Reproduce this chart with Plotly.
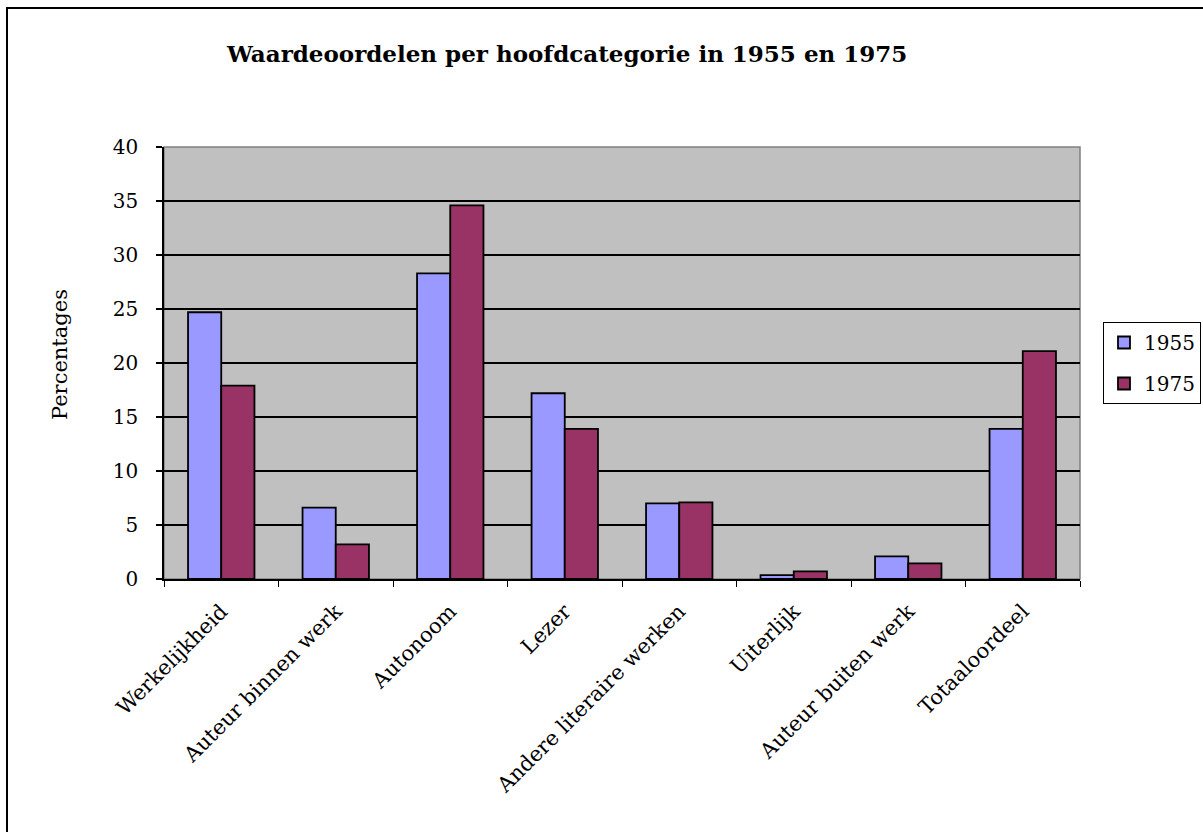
import plotly.graph_objects as go

categories = ["Werkelijkheid", "Auteur binnen werk", "Autonoom", "Lezer",
              "Andere literaire werken", "Uiterlijk", "Auteur buiten werk", "Totaaloordeel"]
values_1955 = [24.7, 6.6, 28.3, 17.2, 7.0, 0.35, 2.1, 13.9]
values_1975 = [17.9, 3.2, 34.6, 13.9, 7.1, 0.7, 1.45, 21.1]
series_names = ["1955", "1975"]
y_ticks = [0, 5, 10, 15, 20, 25, 30, 35, 40]

W, H = 1203, 832
L, R, T, B = 164, 1080, 147, 579  # plot area in pixels
FONT = "DejaVu Serif, Liberation Serif, serif"

def px_x(p):
    return (p - L) / (R - L)

def px_y(p):
    return (B - p) / (B - T)

fig = go.Figure()
fig.add_trace(go.Bar(x=categories, y=values_1955, name=series_names[0],
                     marker=dict(color="#9999FF", line=dict(color="black", width=1.8)),
                     legendgroup="a"))
fig.add_trace(go.Bar(x=categories, y=values_1975, name=series_names[1],
                     marker=dict(color="#993366", line=dict(color="black", width=1.8)),
                     legendgroup="b"))

fig.update_layout(
    width=W, height=H,
    margin=dict(l=L, r=W - R, t=T, b=H - B, autoexpand=False),
    paper_bgcolor="white",
    plot_bgcolor="#C0C0C0",
    barmode="group", bargap=0.42, bargroupgap=0,
    font=dict(family=FONT, size=19, color="black"),
    showlegend=True,
    legend=dict(x=px_x(1103), y=px_y(322), xanchor="left", yanchor="top",
                bordercolor="black", borderwidth=1, bgcolor="white",
                font=dict(family=FONT, size=20), tracegroupgap=12,
                traceorder="grouped", itemwidth=30),
    xaxis=dict(type="category", tickson="boundaries", ticks="outside", ticklen=6,
               tickcolor="black", tickwidth=1, showline=True, linecolor="black",
               linewidth=1.5, showgrid=False, tickangle=-45,
               tickfont=dict(family=FONT, size=21), mirror=False,
               ticklabelstandoff=10),
    yaxis=dict(range=[0, 40], tickvals=y_ticks, ticks="outside", ticklen=6,
               tickcolor="black", tickwidth=1.5, showline=True, linecolor="black",
               linewidth=1.5, showgrid=True, gridcolor="black", gridwidth=1.5,
               zeroline=False, tickfont=dict(family=FONT, size=20),
               ticklabelstandoff=14),
)

# plot-area border (top/right gray)
fig.add_shape(type="rect", xref="paper", yref="paper", x0=0, y0=0, x1=1, y1=1,
              line=dict(color="#808080", width=1.5), layer="below")
# outer chart border
fig.add_shape(type="rect", xref="paper", yref="paper",
              x0=px_x(7), y0=px_y(845), x1=px_x(1215), y1=px_y(8),
              line=dict(color="black", width=2))

fig.add_annotation(text="<b>Waardeoordelen per hoofdcategorie in 1955 en 1975</b>",
                   xref="paper", yref="paper", x=px_x(566), y=px_y(53),
                   showarrow=False, font=dict(family=FONT, size=23),
                   xanchor="center", yanchor="middle")
fig.add_annotation(text="Percentages", xref="paper", yref="paper",
                   x=px_x(60), y=px_y(355), textangle=-90, showarrow=False,
                   font=dict(family=FONT, size=21), xanchor="center", yanchor="middle")

fig.write_html("out.html", config={"displayModeBar": False},
               post_script="document.body.style.margin='0';document.body.style.overflow='hidden';")
